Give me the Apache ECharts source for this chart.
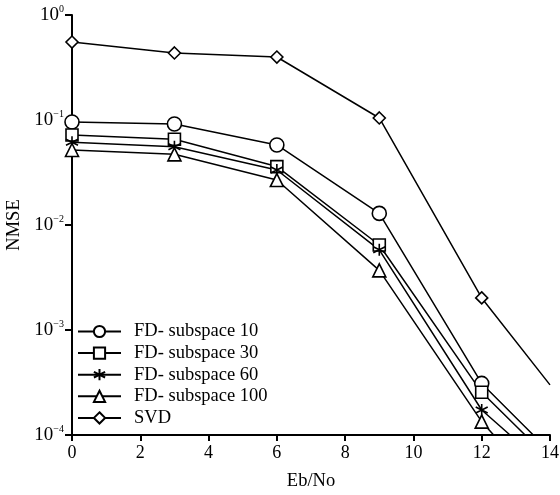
<!DOCTYPE html>
<html>
<head>
<meta charset="utf-8">
<script src="https://cdn.jsdelivr.net/npm/echarts@6/dist/echarts.min.js"></script>
<style>
  html, body { margin: 0; padding: 0; background: #fff; }
  #chart { width: 560px; height: 495px; }
</style>
</head>
<body>
<div id="chart"></div>
<script>
// Eb/No points
var ebno = [0, 3, 6, 9, 12];
// NMSE per method
var fd10 = [0.0957, 0.0916, 0.0578, 0.0129, 3.1e-4];
var fd30 = [0.0719, 0.0655, 0.036, 0.00645, 2.55e-4];
var fd60 = [0.0613, 0.0557, 0.0334, 0.0058, 1.73e-4];
var fd100 = [0.0518, 0.0471, 0.0268, 0.0037, 1.34e-4];
var svd = [0.553, 0.435, 0.398, 0.1045, 0.00202];
// where each curve runs on past the last marker (x, y), no marker drawn
var tail10 = [13.51, 1e-4];
var tail30 = [13.27, 1e-4];
var tail60 = [12.83, 1e-4];
var tail100 = [12.35, 1e-4];
var tailSvd = [14, 3.0e-4];
var names = ['FD- subspace 10', 'FD- subspace 30', 'FD- subspace 60', 'FD- subspace 100', 'SVD'];
var xTicks = [0, 2, 4, 6, 8, 10, 12, 14];

var font = 'Liberation Serif';
var starPath = 'path://M0,-6 L0,6 M-5.2,-3 L5.2,3 M-5.2,3 L5.2,-3';

function pts(ys, tail) {
  var out = ebno.map(function (x, i) { return [x, ys[i]]; });
  out.push({ value: tail, symbol: 'none' });
  return out;
}

function mk(name, ys, tail, symbol, size) {
  return {
    name: name,
    type: 'line',
    data: pts(ys, tail),
    symbol: symbol,
    symbolSize: size,
    showAllSymbol: true,
    clip: true,
    lineStyle: { color: '#000', width: 1.5 },
    itemStyle: { color: '#fff', borderColor: '#000', borderWidth: 1.6 },
    emphasis: { disabled: true },
    z: 3
  };
}

var chart = echarts.init(document.getElementById('chart'));
chart.setOption({
  backgroundColor: '#fff',
  animation: false,
  grid: { left: 72, right: 10, top: 15, bottom: 60, containLabel: false, outerBoundsMode: 'none' },
  legend: {
    orient: 'vertical',
    left: 77,
    top: 322,
    padding: 0,
    itemWidth: 43,
    itemHeight: 14,
    itemGap: 2.6,
    data: names,
    textStyle: { fontFamily: font, fontSize: 18.5, color: '#000', lineHeight: 17, padding: [0, 0, 0, 8] }
  },
  xAxis: {
    type: 'value',
    min: 0,
    max: 14,
    interval: 2,
    name: 'Eb/No',
    nameLocation: 'middle',
    nameGap: 37,
    nameTextStyle: { fontFamily: font, fontSize: 18.5, color: '#000' },
    axisLine: { lineStyle: { color: '#000', width: 2 } },
    axisTick: { show: true, length: 6, lineStyle: { color: '#000', width: 2 } },
    axisLabel: {
      fontFamily: font, fontSize: 18, color: '#000', margin: 9,
      formatter: function (v) { return xTicks.indexOf(v) >= 0 ? String(v) : ''; }
    },
    splitLine: { show: false }
  },
  yAxis: {
    type: 'log',
    logBase: 10,
    min: 1e-4,
    max: 1,
    name: 'NMSE',
    nameLocation: 'middle',
    nameGap: 44,
    nameTextStyle: { fontFamily: font, fontSize: 18.5, color: '#000' },
    axisLine: { show: true, lineStyle: { color: '#000', width: 2 } },
    axisTick: { show: true, length: 7, lineStyle: { color: '#000', width: 2 } },
    minorTick: { show: false },
    axisLabel: {
      margin: 8,
      formatter: function (v) {
        var e = Math.round(Math.log10(v));
        var s = e < 0 ? '\u2212' + (-e) : String(e);
        return '{b|10}{s|' + s + '}';
      },
      rich: {
        b: { fontFamily: font, fontSize: 19, color: '#000' },
        s: { fontFamily: font, fontSize: 10, color: '#000', padding: [0, 0, 11, 0] }
      }
    },
    splitLine: { show: false }
  },
  series: [
    mk(names[0], fd10, tail10, 'circle', 14),
    mk(names[1], fd30, tail30, 'rect', 12),
    mk(names[2], fd60, tail60, starPath, 12),
    mk(names[3], fd100, tail100, 'triangle', 13),
    mk(names[4], svd, tailSvd, 'diamond', 12)
  ]
});
</script>
</body>
</html>
